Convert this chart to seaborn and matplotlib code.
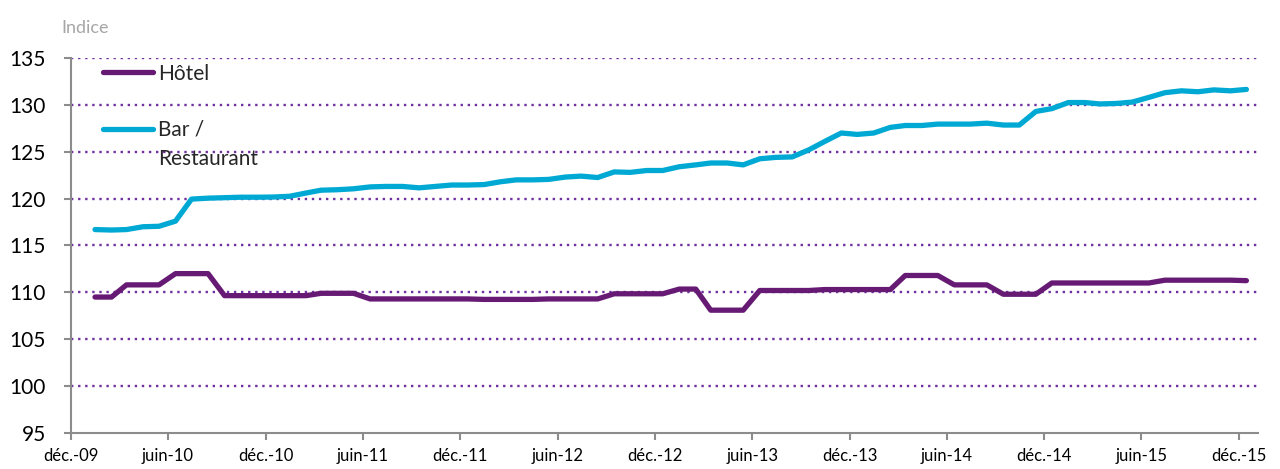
import matplotlib
matplotlib.use("Agg")
import matplotlib.pyplot as plt
from matplotlib.legend_handler import HandlerLine2D
import numpy as np
import pandas as pd
import seaborn as sns

# Monthly index values, jan-10 .. déc-15 (plotted mid-month)
months = pd.date_range("2010-01-01", "2015-12-01", freq="MS") + pd.Timedelta(days=14)

hotel = [109.5, 109.5, 110.8, 110.8, 110.8, 112.0, 112.0, 112.0, 109.65, 109.65,
         109.65, 109.65, 109.65, 109.65, 109.9, 109.9, 109.9, 109.3, 109.3, 109.3,
         109.3, 109.3, 109.3, 109.3, 109.25, 109.25, 109.25, 109.25, 109.3, 109.3,
         109.3, 109.3, 109.85, 109.85, 109.85, 109.85, 110.35, 110.35, 108.1, 108.1,
         108.1, 110.2, 110.2, 110.2, 110.2, 110.3, 110.3, 110.3, 110.3, 110.3,
         111.8, 111.8, 111.8, 110.8, 110.8, 110.8, 109.8, 109.8, 109.8, 111.0,
         111.0, 111.0, 111.0, 111.0, 111.0, 111.0, 111.3, 111.3, 111.3, 111.3,
         111.3, 111.25]

bar_restaurant = [116.7, 116.65, 116.7, 117.0, 117.05, 117.6, 119.95, 120.05, 120.1, 120.15,
                  120.15, 120.17, 120.25, 120.6, 120.9, 120.95, 121.05, 121.25, 121.3, 121.3,
                  121.15, 121.3, 121.45, 121.45, 121.5, 121.8, 122.0, 122.0, 122.05, 122.3,
                  122.4, 122.25, 122.85, 122.8, 123.0, 123.0, 123.4, 123.6, 123.8, 123.8,
                  123.6, 124.25, 124.4, 124.45, 125.2, 126.1, 127.0, 126.85, 127.0, 127.6,
                  127.8, 127.8, 127.95, 127.95, 127.95, 128.05, 127.85, 127.85, 129.3, 129.6,
                  130.25, 130.25, 130.1, 130.15, 130.3, 130.8, 131.3, 131.5, 131.4, 131.6,
                  131.5, 131.65]

series_names = ["Hôtel", "Bar /\nRestaurant"]
colors = ["#661a73", "#00a9d4"]

tick_dates = pd.date_range("2009-12-01", "2015-12-01", freq="6MS")
tick_labels = ["déc.-09", "juin-10", "déc.-10", "juin-11", "déc.-11", "juin-12",
               "déc.-12", "juin-13", "déc.-13", "juin-14", "déc.-14", "juin-15",
               "déc.-15"]
y_ticks = list(range(95, 136, 5))

df = pd.DataFrame({
    "date": np.concatenate([months, months]),
    "value": hotel + bar_restaurant,
    "serie": [series_names[0]] * len(hotel) + [series_names[1]] * len(bar_restaurant),
})


class ShiftedLine(HandlerLine2D):
    # legend handle moved up so it sits on the first line of a 2-line label
    def __init__(self, dy=0.0, **kw):
        super().__init__(**kw)
        self.dy = dy

    def create_artists(self, legend, orig_handle, xdescent, ydescent,
                       width, height, fontsize, trans):
        artists = super().create_artists(legend, orig_handle, xdescent, ydescent,
                                         width, height, fontsize, trans)
        for a in artists:
            a.set_ydata(np.asarray(a.get_ydata(), dtype=float) + self.dy)
            a.set_solid_capstyle("round")
        return artists


sns.set_theme(style="white")
plt.rcParams["font.family"] = ["Lato", "DejaVu Sans"]

fig = plt.figure(figsize=(12.8, 4.69), dpi=100)
ax = fig.add_axes([0.0555, 0.0768, 0.927, 0.7995])

sns.lineplot(data=df, x="date", y="value", hue="serie", hue_order=series_names,
             palette=colors, linewidth=3.8, ax=ax,
             solid_capstyle="round", solid_joinstyle="round", zorder=3)

ax.set_ylim(95, 135)
ax.set_xlim(pd.Timestamp("2009-12-01"), pd.Timestamp("2016-01-05"))
ax.set_yticks(y_ticks)
ax.set_xticks(tick_dates)
ax.set_xticklabels(tick_labels)
ax.set_xlabel("")
ax.set_ylabel("")

grid_color = "#7030a0"
for v in y_ticks[1:]:
    ax.axhline(v, color=grid_color, linewidth=1.7, linestyle=(0, (1, 2.0)), zorder=1)

axis_gray = "#8c8c8c"
for side in ["top", "right"]:
    ax.spines[side].set_visible(False)
for side in ["left", "bottom"]:
    ax.spines[side].set_color(axis_gray)
    ax.spines[side].set_linewidth(1.5)
    ax.spines[side].set_zorder(2)

ax.tick_params(axis="y", which="major", left=True, length=5, width=1.5,
               color=axis_gray, labelsize=15, pad=13, labelcolor="black")
ax.tick_params(axis="x", which="major", bottom=True, length=5, width=1.5,
               color=axis_gray, labelsize=12, pad=6, labelcolor="black")

handles, labels = ax.get_legend_handles_labels()
leg = ax.legend(handles, labels, loc="upper left", bbox_to_anchor=(0.027, 0.985),
                frameon=False, fontsize=15, handlelength=2.4, handletextpad=0.22,
                labelspacing=1.72, borderpad=0, borderaxespad=0,
                handler_map={handles[0]: ShiftedLine(0.0),
                             handles[1]: ShiftedLine(11.5)})
for t in leg.get_texts():
    t.set_linespacing(1.6)

fig.text(0.048, 0.94, "Indice", color="#a6a6a6", fontsize=13, va="center", ha="left")

fig.savefig("out.png", dpi=100)
